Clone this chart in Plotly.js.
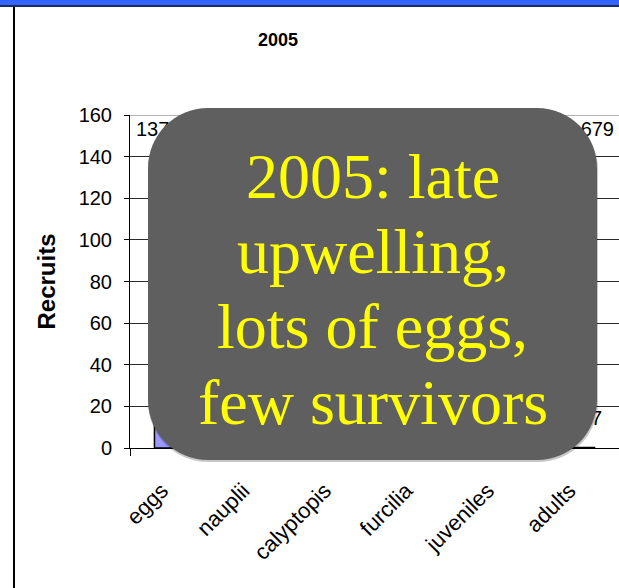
<!DOCTYPE html>
<html>
<head>
<meta charset="utf-8">
<script src="https://cdn.plot.ly/plotly-3.0.1.min.js"></script>
<style>
  html, body { margin: 0; padding: 0; background: #ffffff; }
  #chart { width: 619px; height: 588px; }
</style>
</head>
<body>
<div id="chart"></div>
<script>
// Krill life stages and recruits counted in 2005
const categories = ['eggs', 'nauplii', 'calyptopis', 'furcilia', 'juveniles', 'adults'];
const recruits = [137, 58, 26, 12, 4, 0.2];
const yTicks = [0, 20, 40, 60, 80, 100, 120, 140, 160];
const sideNotes = ['679', '7'];
const calloutLines = ['2005: late', 'upwelling,', 'lots of eggs,', 'few survivors'];

// Page geometry (pixels) and helpers to convert into paper coordinates
const W = 619, H = 588;
const L = 130, R = 619, T = 115, B = 448;
const px2x = p => (p - L) / (R - L);
const px2y = p => (B - p) / (B - T);
const catW = (R - L) / categories.length;
const px2cat = p => (p - L) / catW - 0.5;
const unitsPerPx = (yTicks[yTicks.length - 1] - yTicks[0]) / (B - T);
const py2val = p => (B - p) * unitsPerPx;

const sans = 'Arial, "Liberation Sans", sans-serif';
const serif = '"Times New Roman", "Liberation Serif", serif';

// Rounded rectangle as an SVG path in paper coordinates
function roundedRect(x0, y0, x1, y1, r) {
  const k = 0.5523 * r;
  const P = (x, y) => px2x(x).toFixed(5) + ',' + px2y(y).toFixed(5);
  return 'M' + P(x0 + r, y0) +
    ' L' + P(x1 - r, y0) +
    ' C' + P(x1 - r + k, y0) + ' ' + P(x1, y0 + r - k) + ' ' + P(x1, y0 + r) +
    ' L' + P(x1, y1 - r) +
    ' C' + P(x1, y1 - r + k) + ' ' + P(x1 - r + k, y1) + ' ' + P(x1 - r, y1) +
    ' L' + P(x0 + r, y1) +
    ' C' + P(x0 + r - k, y1) + ' ' + P(x0, y1 - r + k) + ' ' + P(x0, y1 - r) +
    ' L' + P(x0, y0 + r) +
    ' C' + P(x0, y0 + r - k) + ' ' + P(x0 + r - k, y0) + ' ' + P(x0 + r, y0) + ' Z';
}

const bars = {
  type: 'bar',
  x: categories,
  y: recruits,
  marker: { color: '#9999FF', line: { color: '#000000', width: 1.5 } },
  hoverinfo: 'x+y',
  cliponaxis: true
};

// Value labels along the top and right of the plot
const labels = {
  type: 'scatter',
  mode: 'text',
  xaxis: 'x2',
  yaxis: 'y',
  x: [px2cat(136), px2cat(614), px2cat(602)],
  y: [py2val(131), py2val(131), py2val(420)],
  text: [String(recruits[0]), sideNotes[0], sideNotes[1]],
  textposition: ['middle right', 'middle left', 'middle left'],
  textfont: { family: sans, size: 20, color: '#000000' },
  hoverinfo: 'skip',
  cliponaxis: false,
  showlegend: false
};

const shapes = [
  // header band
  { type: 'rect', xref: 'paper', yref: 'paper', x0: px2x(0), x1: px2x(W), y0: px2y(5), y1: px2y(0),
    fillcolor: '#3366FF', line: { width: 0 }, layer: 'above' },
  { type: 'rect', xref: 'paper', yref: 'paper', x0: px2x(0), x1: px2x(W), y0: px2y(7), y1: px2y(5),
    fillcolor: '#1C2A66', line: { width: 0 }, layer: 'above' },
  // left frame line
  { type: 'line', xref: 'paper', yref: 'paper', x0: px2x(14), x1: px2x(14), y0: px2y(7), y1: px2y(H),
    line: { color: '#000000', width: 2 }, layer: 'above' },
  // plot area top border
  { type: 'line', xref: 'paper', yref: 'y', x0: 0, x1: 1, y0: 160, y1: 160,
    line: { color: '#9a9a9a', width: 1.5 }, layer: 'above' },
  // callout shadow and body
  { type: 'path', xref: 'paper', yref: 'paper', path: roundedRect(148, 110, 598, 462, 60),
    fillcolor: 'rgba(0,0,0,0.22)', line: { width: 0 }, layer: 'above' },
  { type: 'path', xref: 'paper', yref: 'paper', path: roundedRect(148, 108, 597, 460, 60),
    fillcolor: '#5F5F5F', line: { width: 0 }, layer: 'above' }
];

const lineCenters = [176, 251, 326, 402];
const annotations = calloutLines.map((t, i) => ({
  text: t,
  xref: 'paper', yref: 'paper',
  x: px2x(372.5), y: px2y(lineCenters[i]),
  xanchor: 'center', yanchor: 'middle',
  showarrow: false,
  font: { family: serif, size: 64, color: '#FFFF00' }
}));

const layout = {
  width: W, height: H,
  margin: { l: L, r: W - R, t: T, b: H - B, pad: 0, autoexpand: false },
  paper_bgcolor: '#ffffff',
  plot_bgcolor: '#ffffff',
  showlegend: false,
  bargap: 0.6,
  title: {
    text: '<b>2005</b>',
    font: { family: sans, size: 18, color: '#000000' },
    xref: 'container', yref: 'container',
    x: 278 / W, xanchor: 'center',
    y: 1 - 40 / H, yanchor: 'middle'
  },
  xaxis: {
    type: 'category',
    tickangle: -45,
    tickfont: { family: sans, size: 22, color: '#000000' },
    ticks: 'outside', tickson: 'boundaries', ticklen: 7, tickcolor: '#000000',
    ticklabelstandoff: 20,
    ticklabelshift: -9,
    showline: true, linecolor: '#000000', linewidth: 1,
    showgrid: false, zeroline: false, automargin: false,
    fixedrange: true
  },
  xaxis2: {
    overlaying: 'x', range: [-0.5, categories.length - 0.5],
    visible: false, fixedrange: true
  },
  yaxis: {
    range: [yTicks[0], yTicks[yTicks.length - 1]],
    tickvals: yTicks,
    tickfont: { family: sans, size: 20, color: '#000000' },
    ticks: 'outside', ticklen: 5, tickcolor: '#000000',
    ticklabelstandoff: 8,
    showline: true, linecolor: '#000000', linewidth: 1,
    showgrid: true, gridcolor: '#2a2a2a', gridwidth: 1,
    zeroline: false, automargin: false,
    title: { text: '<b>Recruits</b>', font: { family: sans, size: 24, color: '#000000' }, standoff: 16 },
    fixedrange: true
  },
  shapes: shapes,
  annotations: annotations
};

Plotly.newPlot('chart', [bars, labels], layout, { displayModeBar: false, staticPlot: true });
</script>
</body>
</html>
